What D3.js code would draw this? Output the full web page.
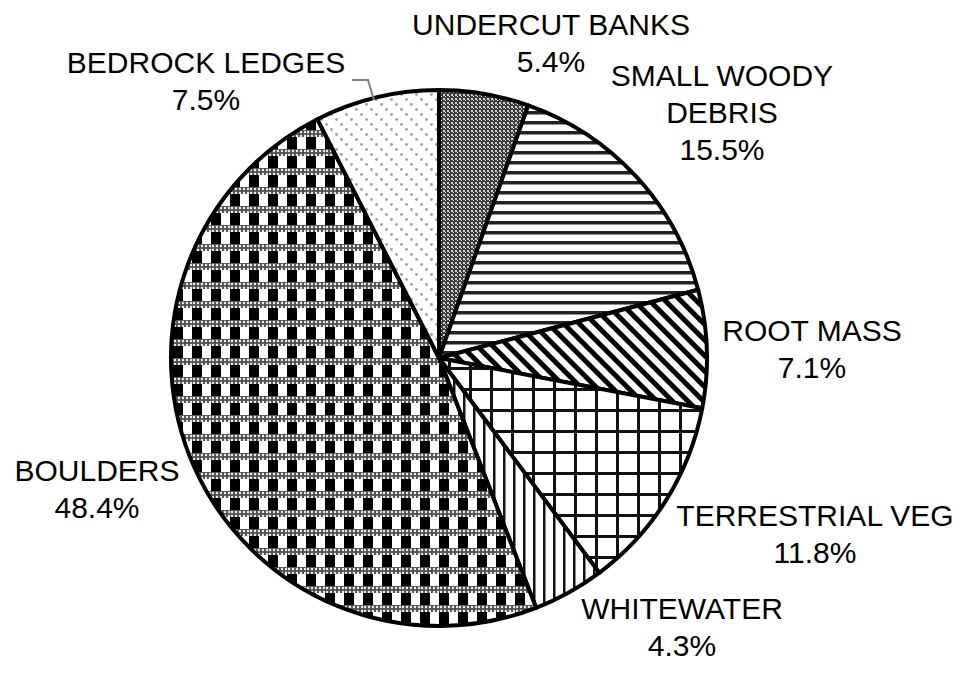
<!DOCTYPE html>
<html>
<head>
<meta charset="utf-8">
<script src="https://cdn.jsdelivr.net/npm/d3@7"></script>
<style>
  html, body { margin: 0; padding: 0; background: #fff; }
  svg text { font-family: "Liberation Sans", Arial, sans-serif; font-size: 30px; fill: #000; }
</style>
</head>
<body>
<svg id="chart" width="962" height="675"></svg>
<script>
// Habitat cover types (clockwise from 12 o'clock) and their share in percent
const categories = ["UNDERCUT BANKS", "SMALL WOODY DEBRIS", "ROOT MASS", "TERRESTRIAL VEG", "WHITEWATER", "BOULDERS", "BEDROCK LEDGES"];
const percents = [5.4, 15.5, 7.1, 11.8, 4.3, 48.4, 7.5];
const labelLines = [["UNDERCUT BANKS"], ["SMALL WOODY", "DEBRIS"], ["ROOT MASS"], ["TERRESTRIAL VEG"], ["WHITEWATER"], ["BOULDERS"], ["BEDROCK LEDGES"]];
const patternIds = ["p-undercut", "p-woody", "p-root", "p-terr", "p-white", "p-boulder", "p-bedrock"];

const W = 962, H = 675;
const cx = 439, cy = 358, R = 268;

const svg = d3.select("#chart");
const defs = svg.append("defs");

// --- hatch / texture fills ---
function pattern(id, w, h) {
  return defs.append("pattern").attr("id", id)
    .attr("patternUnits", "userSpaceOnUse").attr("width", w).attr("height", h);
}
// fine checker
let p = pattern("p-undercut", 4, 4);
p.append("rect").attr("width", 4).attr("height", 4).attr("fill", "#3c3c3c");
p.append("rect").attr("x", 0).attr("y", 0).attr("width", 2).attr("height", 2).attr("fill", "#cfcfcf");
p.append("rect").attr("x", 2).attr("y", 2).attr("width", 1).attr("height", 1).attr("fill", "#ffffff");

// horizontal lines
p = pattern("p-woody", 10, 10);
p.append("rect").attr("width", 10).attr("height", 10).attr("fill", "#fff");
p.append("rect").attr("y", 3).attr("width", 10).attr("height", 3.5).attr("fill", "#222");

// wide upward diagonal
p = pattern("p-root", 11, 11).attr("patternTransform", "rotate(-45)");
p.append("rect").attr("width", 11).attr("height", 11).attr("fill", "#fff");
p.append("rect").attr("x", 0).attr("width", 5).attr("height", 11).attr("fill", "#000");

// grid
p = pattern("p-terr", 21, 21);
p.append("rect").attr("width", 21).attr("height", 21).attr("fill", "#fff");
p.append("rect").attr("x", 9).attr("width", 3).attr("height", 21).attr("fill", "#111");
p.append("rect").attr("y", 9).attr("width", 21).attr("height", 3).attr("fill", "#111");

// vertical lines
p = pattern("p-white", 10, 10);
p.append("rect").attr("width", 10).attr("height", 10).attr("fill", "#fff");
p.append("rect").attr("x", 4).attr("width", 2.5).attr("height", 10).attr("fill", "#111");

// small dotted texture used inside the boulder bands
p = pattern("p-fine", 4, 4);
p.append("rect").attr("width", 4).attr("height", 4).attr("fill", "#505050");
p.append("circle").attr("cx", 2).attr("cy", 2).attr("r", 1.2).attr("fill", "#f0f0f0");

// large plaid blocks
p = pattern("p-boulder", 19, 19);
p.append("rect").attr("width", 19).attr("height", 19).attr("fill", "#fff");
p.append("rect").attr("x", 0).attr("width", 10).attr("height", 19).attr("fill", "#000");
p.append("rect").attr("y", 0).attr("width", 19).attr("height", 7).attr("fill", "url(#p-fine)");

// sparse diagonal dots
p = pattern("p-bedrock", 15, 15);
p.append("rect").attr("width", 15).attr("height", 15).attr("fill", "#fff");
[[1, 0], [6, 5], [11, 10]].forEach(([x, y]) => {
  p.append("circle").attr("cx", x + 1.5).attr("cy", y + 1.5).attr("r", 1.4).attr("fill", "#a0a0a0");
});

// --- pie ---
const data = categories.map((c, i) => ({ name: c, value: percents[i], pat: patternIds[i], lines: labelLines[i] }));
const pie = d3.pie().value(d => d.value).sort(null);
const arcs = pie(data);
const arc = d3.arc().innerRadius(0).outerRadius(R);

const g = svg.append("g").attr("transform", `translate(${cx},${cy})`);
g.selectAll("path.slice").data(arcs).join("path")
  .attr("class", "slice")
  .attr("d", arc)
  .attr("fill", d => `url(#${d.data.pat})`)
  .attr("stroke", "#000").attr("stroke-width", 4).attr("stroke-linejoin", "round");

// --- labels (centre position of each text block) ---
const labelPos = [
  [551, 24], [722, 75], [812, 330], [815, 515], [682, 608], [97, 470], [206, 62]
];
const lineGap = 37;
arcs.forEach((a, i) => {
  const lines = a.data.lines.concat([d3.format(".1f")(a.data.value) + "%"]);
  const [x, y] = labelPos[i];
  const t = svg.append("text").attr("text-anchor", "middle");
  lines.forEach((ln, j) => {
    t.append("tspan").attr("x", x).attr("y", y + j * lineGap + 10.5).text(ln);
  });
});

// leader line for the bedrock ledges label
svg.append("polyline")
  .attr("points", "352,80 368,80 374,100")
  .attr("fill", "none").attr("stroke", "#808080").attr("stroke-width", 2);
</script>
</body>
</html>
